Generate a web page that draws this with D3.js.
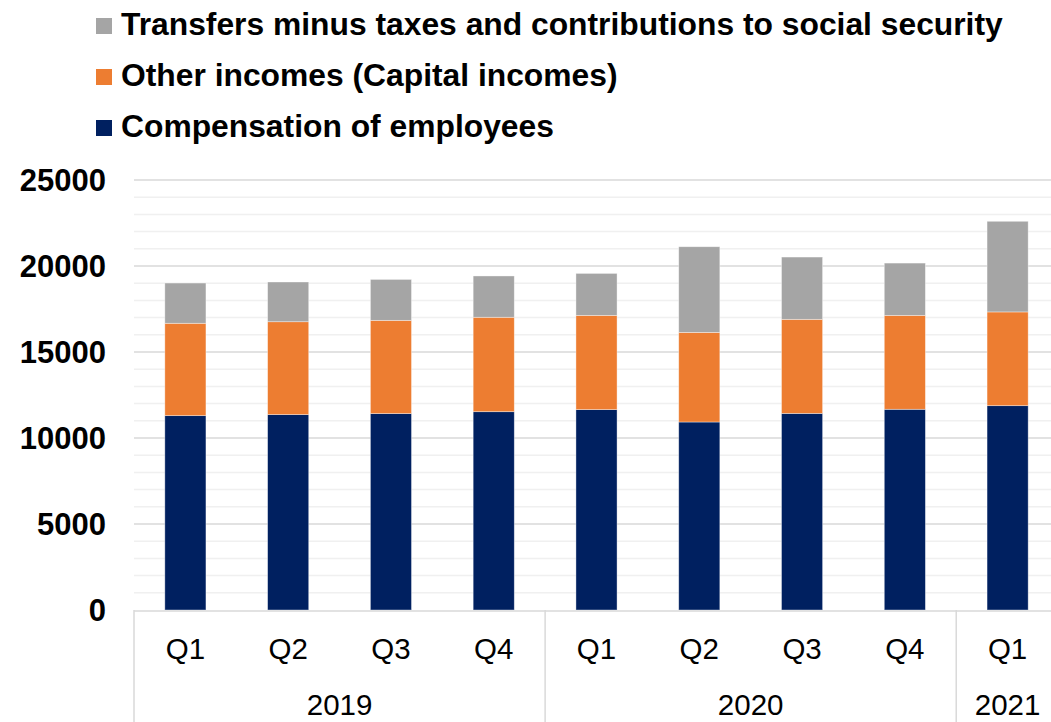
<!DOCTYPE html>
<html>
<head>
<meta charset="utf-8">
<script src="https://cdn.jsdelivr.net/npm/d3@7"></script>
<style>
  body { margin: 0; background: #fff; }
  svg { display: block; font-family: "Liberation Sans", Arial, sans-serif; }
</style>
</head>
<body>
<svg id="chart" width="1051" height="722"></svg>
<script>
// quarters and their years
const quarters = ["Q1", "Q2", "Q3", "Q4", "Q1", "Q2", "Q3", "Q4", "Q1"];
const years = ["2019", "2019", "2019", "2019", "2020", "2020", "2020", "2020", "2021"];
const yTicks = [0, 5000, 10000, 15000, 20000, 25000];

// series values
const compensation = [11300, 11360, 11420, 11530, 11650, 10930, 11430, 11670, 11880];
const otherIncomes = [5370, 5400, 5420, 5490, 5480, 5210, 5470, 5460, 5450];
const transfers = [2340, 2310, 2380, 2400, 2440, 4980, 3620, 3040, 5270];

const seriesNames = [
    "Compensation of employees",
    "Other incomes (Capital incomes)",
    "Transfers minus taxes and contributions to social security"
];
const colors = ["#002060", "#ed7d31", "#a5a5a5"];

const svg = d3.select("#chart");
const plotLeft = 134, plotRight = 1059, plotTop = 180, plotBottom = 610;

let table = quarters.map((q, i) => ({
    key: i,
    comp: compensation[i],
    other: otherIncomes[i],
    transfers: transfers[i]
}));

let x = d3.scaleBand()
    .domain(d3.range(quarters.length))
    .range([plotLeft, plotRight])
    .paddingInner(0.6)
    .paddingOuter(0.3);

let y = d3.scaleLinear()
    .domain([0, 25000])
    .range([plotBottom, plotTop]);

// minor gridlines every 1000
svg.append("g")
    .selectAll("line")
    .data(d3.range(1000, 25001, 1000).filter(v => v % 5000 != 0))
    .enter().append("line")
        .attr("x1", plotLeft)
        .attr("x2", 1051)
        .attr("y1", d => y(d))
        .attr("y2", d => y(d))
        .attr("stroke", "#f0f0f0")
        .attr("stroke-width", 1.5);

// major gridlines
svg.append("g")
    .selectAll("line")
    .data(yTicks.filter(v => v > 0))
    .enter().append("line")
        .attr("x1", plotLeft)
        .attr("x2", 1051)
        .attr("y1", d => y(d))
        .attr("y2", d => y(d))
        .attr("stroke", "#d9d9d9")
        .attr("stroke-width", 1.5);

// y tick labels
svg.append("g")
    .selectAll("text")
    .data(yTicks)
    .enter().append("text")
        .attr("x", 106)
        .attr("y", d => y(d) + 11)
        .attr("text-anchor", "end")
        .style("font-size", "31px")
        .style("font-weight", "bold")
        .text(d => d);

// stacked bars
let stack = d3.stack().keys(["comp", "other", "transfers"]);
let layers = stack(table);

svg.append("g")
    .selectAll("g")
    .data(layers)
    .enter().append("g")
        .attr("fill", (d, i) => colors[i])
    .selectAll("rect")
    .data(d => d)
    .enter().append("rect")
        .attr("x", d => x(d.data.key))
        .attr("width", x.bandwidth())
        .attr("y", d => y(d[1]))
        .attr("height", d => y(d[0]) - y(d[1]))
        .attr("stroke", "#ffffff")
        .attr("stroke-opacity", 0.5)
        .attr("stroke-width", 0.75);

// x axis line
svg.append("line")
    .attr("x1", plotLeft)
    .attr("x2", 1051)
    .attr("y1", plotBottom + 1)
    .attr("y2", plotBottom + 1)
    .attr("stroke", "#d9d9d9")
    .attr("stroke-width", 1.5);

// quarter labels
svg.append("g")
    .selectAll("text")
    .data(quarters)
    .enter().append("text")
        .attr("x", (d, i) => x(i) + x.bandwidth() / 2)
        .attr("y", 659)
        .attr("text-anchor", "middle")
        .style("font-size", "29.5px")
        .text(d => d);

// year groups and separators
let step = x.step();
let groups = [];
years.forEach((yr, i) => {
    let last = groups[groups.length - 1];
    if (last && last.year == yr) last.end = i;
    else groups.push({ year: yr, start: i, end: i });
});

let edge = i => plotLeft + i * step;

svg.append("g")
    .selectAll("line")
    .data(groups)
    .enter().append("line")
        .attr("x1", d => edge(d.start))
        .attr("x2", d => edge(d.start))
        .attr("y1", plotBottom)
        .attr("y2", 722)
        .attr("stroke", "#d9d9d9")
        .attr("stroke-width", 1.5);

svg.append("g")
    .selectAll("text")
    .data(groups)
    .enter().append("text")
        .attr("x", d => (edge(d.start) + edge(d.end + 1)) / 2)
        .attr("y", 715)
        .attr("text-anchor", "middle")
        .style("font-size", "29.5px")
        .text(d => d.year);

// legend, top entry is the top of the stack
let legendOrder = [2, 1, 0];
let legend = svg.append("g")
    .selectAll("g")
    .data(legendOrder)
    .enter().append("g")
        .attr("transform", (d, i) => `translate(96, ${18 + i * 51})`);

legend.append("rect")
    .attr("width", 16)
    .attr("height", 16)
    .attr("fill", d => colors[d]);

legend.append("text")
    .attr("x", 25)
    .attr("y", 17)
    .style("font-size", "31.8px")
    .style("font-weight", "bold")
    .text(d => seriesNames[d]);
</script>
</body>
</html>
